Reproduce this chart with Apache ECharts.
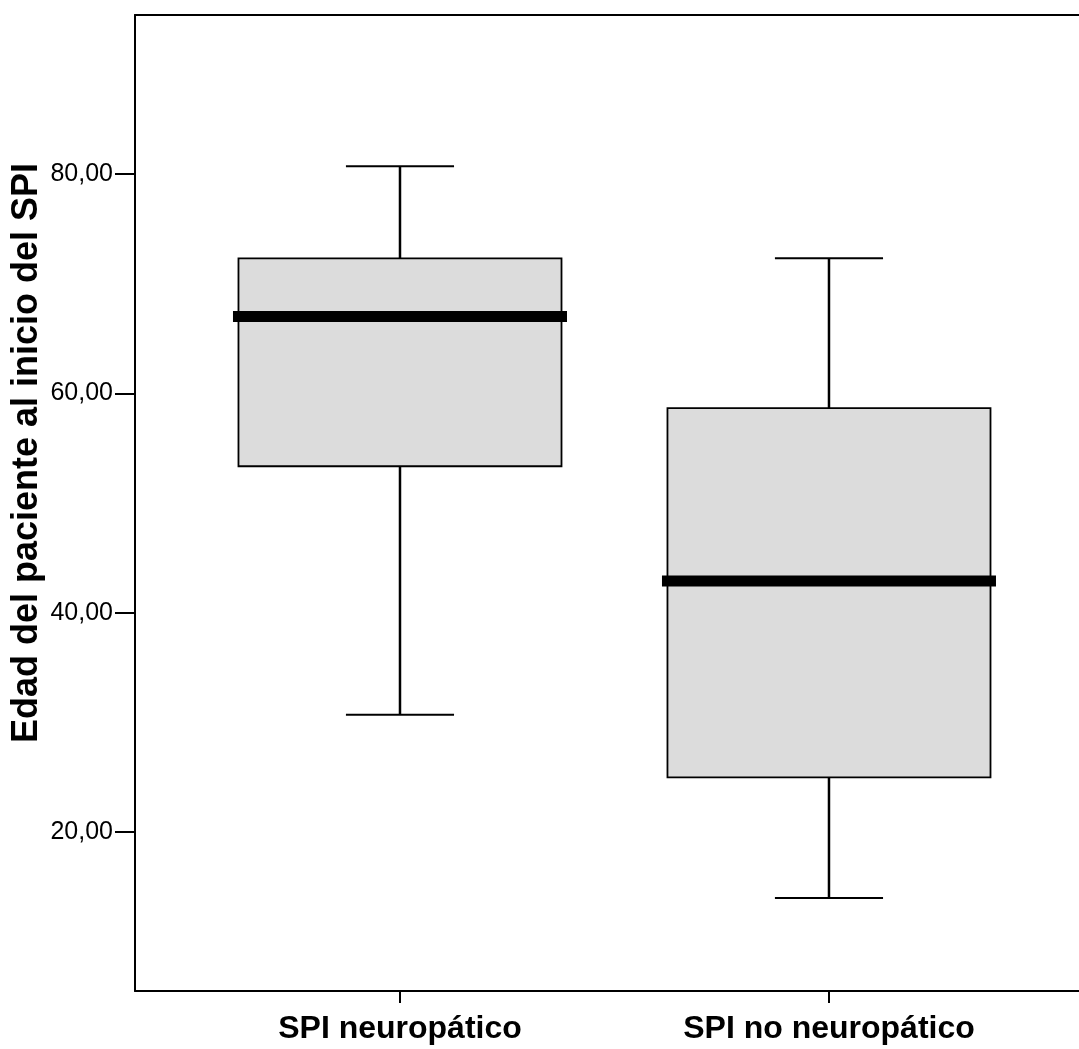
<!DOCTYPE html>
<html>
<head>
<meta charset="utf-8">
<script src="https://cdn.jsdelivr.net/npm/echarts@6/dist/echarts.min.js"></script>
<style>html,body{margin:0;padding:0;background:#fff;}#c{width:1079px;height:1049px;}</style>
</head>
<body>
<div id="c"></div>
<script>
const categories = ['SPI neuropático', 'SPI no neuropático'];
const whiskerLow = [30.7, 14.0];
const q1 = [53.35, 25.0];
const median = [67.0, 42.9];
const q3 = [72.3, 58.65];
const whiskerHigh = [80.7, 72.3];
const yTicks = [20, 40, 60, 80];
const yTitle = 'Edad del paciente al inicio del SPI';

const data = categories.map((c, i) => [i, whiskerLow[i], q1[i], median[i], q3[i], whiskerHigh[i]]);

const chart = echarts.init(document.getElementById('c'), null, {renderer: 'canvas'});
const FONT = '"Liberation Sans", Arial, Helvetica, sans-serif';
const X_MIN = -0.6177, X_MAX = 1.5828;

chart.setOption({
  animation: false,
  backgroundColor: '#fff',
  grid: {left: 135, top: 15, right: 0, bottom: 58},
  xAxis: [{
    type: 'value',
    min: X_MIN, max: X_MAX,
    splitLine: {show: false},
    axisLine: {show: true, onZero: false, lineStyle: {color: '#000', width: 2}},
    axisTick: {show: true, length: 12, lineStyle: {color: '#000', width: 2}, customValues: [0, 1]},
    axisLabel: {
      customValues: [0, 1],
      margin: 22,
      color: '#000', fontFamily: FONT, fontWeight: 'bold', fontSize: 32,
      formatter: v => categories[Math.round(v)]
    }
  }, {
    type: 'value',
    position: 'top',
    min: X_MIN, max: X_MAX,
    splitLine: {show: false},
    axisLine: {show: true, onZero: false, lineStyle: {color: '#000', width: 2}},
    axisTick: {show: false},
    axisLabel: {show: false}
  }],
  yAxis: {
    type: 'value',
    min: 5.52, max: 94.48,
    splitLine: {show: false},
    axisLine: {show: true, onZero: false, lineStyle: {color: '#000', width: 2}},
    axisTick: {show: true, length: 20, lineStyle: {color: '#000', width: 2}, customValues: yTicks},
    axisLabel: {
      customValues: yTicks,
      margin: 22,
      color: '#000', fontFamily: FONT, fontSize: 25,
      formatter: v => v.toFixed(2).replace('.', ',')
    }
  },
  graphic: [{
    type: 'text',
    x: 27, y: 453,
    rotation: Math.PI / 2,
    style: {
      text: yTitle,
      fill: '#000',
      font: 'bold 36px ' + FONT,
      textAlign: 'center',
      textVerticalAlign: 'middle'
    }
  }],
  series: [{
    type: 'custom',
    xAxisIndex: 0,
    data: data,
    encode: {x: 0, y: [1, 2, 3, 4, 5]},
    renderItem: function (params, api) {
      const i = api.value(0);
      const unit = api.size([1, 0])[0];
      const cx = api.coord([i, api.value(1)])[0];
      const yLow = api.coord([i, api.value(1)])[1];
      const yQ1 = api.coord([i, api.value(2)])[1];
      const yMed = api.coord([i, api.value(3)])[1];
      const yQ3 = api.coord([i, api.value(4)])[1];
      const yHigh = api.coord([i, api.value(5)])[1];
      const boxHalf = unit * 0.3765;
      const medHalf = unit * 0.3893;
      const capHalf = unit * 0.126;
      const ls = (x1, y1, x2, y2, w) => ({
        type: 'line', shape: {x1, y1, x2, y2},
        style: {stroke: '#000', lineWidth: w}
      });
      return {
        type: 'group',
        children: [
          ls(cx, yHigh, cx, yQ3, 2.5),
          ls(cx, yQ1, cx, yLow, 2.5),
          ls(cx - capHalf, yHigh, cx + capHalf, yHigh, 2),
          ls(cx - capHalf, yLow, cx + capHalf, yLow, 2),
          {
            type: 'rect',
            shape: {x: cx - boxHalf, y: yQ3, width: boxHalf * 2, height: yQ1 - yQ3},
            style: {fill: '#dcdcdc', stroke: '#000', lineWidth: 1.8}
          },
          ls(cx - medHalf, yMed, cx + medHalf, yMed, 11)
        ]
      };
    }
  }]
});
</script>
</body>
</html>
